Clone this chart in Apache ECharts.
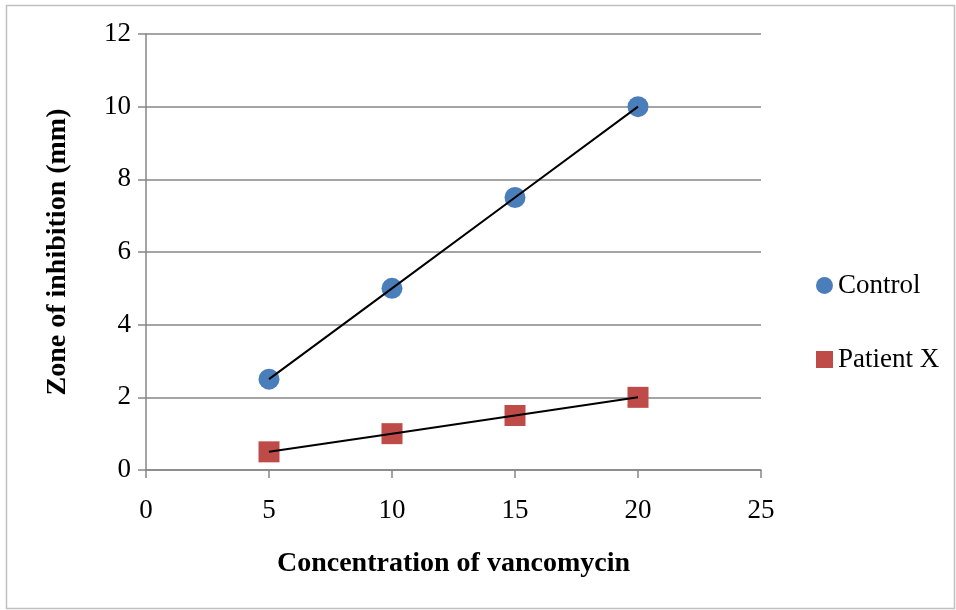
<!DOCTYPE html>
<html><head><meta charset="utf-8">
<script src="https://cdn.jsdelivr.net/npm/echarts@6/dist/echarts.min.js"></script>
<style>html,body{margin:0;padding:0;background:#fff}#c{width:956px;height:610px}</style>
</head><body><div id="c"></div>
<script>
const concentrations = [5, 10, 15, 20];
const controlValues = [2.5, 5, 7.5, 10];
const patientValues = [0.5, 1, 1.5, 2];
const seriesNames = ['Control', 'Patient X'];
const xTitle = 'Concentration of vancomycin';
const yTitle = 'Zone of inhibition (mm)';

const pair = (xs, ys) => xs.map((x, i) => [x, ys[i]]);
const font = 'Liberation Serif';
const axisGray = '#868686';

const chart = echarts.init(document.getElementById('c'));
chart.setOption({
  animation: false,
  textStyle: { fontFamily: font },
  grid: { left: 146, right: 195, top: 34, bottom: 140, containLabel: false },
  graphic: [{ type: 'rect', shape: { x: 6.5, y: 5.5, width: 948, height: 603 },
    style: { fill: 'none', stroke: '#c0c0c0', lineWidth: 1.5 }, silent: true }],
  legend: {
    orient: 'vertical', left: 811, top: 267, itemGap: 47,
    itemWidth: 17, itemHeight: 17,
    textStyle: { fontFamily: font, fontSize: 27, color: '#000' },
    data: [{ name: seriesNames[0], icon: 'circle' }, { name: seriesNames[1], icon: 'rect' }]
  },
  xAxis: {
    type: 'value', min: 0, max: 25, interval: 5,
    name: xTitle, nameLocation: 'middle', nameGap: 80,
    nameTextStyle: { fontFamily: font, fontSize: 28, fontWeight: 'bold', color: '#000' },
    axisLine: { show: true, lineStyle: { color: axisGray, width: 1.5 } },
    axisTick: { show: true, length: 8, lineStyle: { color: axisGray, width: 1.5 } },
    axisLabel: { fontFamily: font, fontSize: 27, color: '#000', margin: 27 },
    splitLine: { show: false }
  },
  yAxis: {
    type: 'value', min: 0, max: 12, interval: 2,
    name: yTitle, nameLocation: 'middle', nameGap: 74, nameRotate: 90,
    nameTextStyle: { fontFamily: font, fontSize: 28, fontWeight: 'bold', color: '#000' },
    axisLine: { show: true, lineStyle: { color: axisGray, width: 1.5 } },
    axisTick: { show: true, length: 8, lineStyle: { color: axisGray, width: 1.5 } },
    axisLabel: { fontFamily: font, fontSize: 27, color: '#000', margin: 15 },
    splitLine: { show: true, lineStyle: { color: axisGray, width: 1.5 } }
  },
  series: [
    { name: seriesNames[0], type: 'scatter', symbol: 'circle', symbolSize: 21,
      itemStyle: { color: '#4a7ebb', opacity: 1 }, data: pair(concentrations, controlValues), z: 2 },
    { name: seriesNames[1], type: 'scatter', symbol: 'rect', symbolSize: 21,
      itemStyle: { color: '#be4b48', opacity: 1 }, data: pair(concentrations, patientValues), z: 2 },
    { name: 'Control trend', type: 'line', showSymbol: false, silent: true,
      lineStyle: { color: '#000', width: 2 }, data: pair(concentrations, controlValues), z: 5 },
    { name: 'Patient trend', type: 'line', showSymbol: false, silent: true,
      lineStyle: { color: '#000', width: 2 }, data: pair(concentrations, patientValues), z: 5 }
  ]
});
</script></body></html>
